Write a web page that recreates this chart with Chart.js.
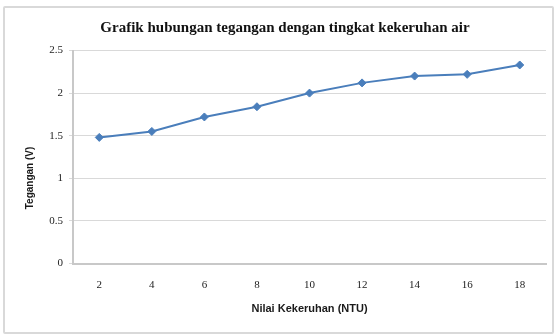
<!DOCTYPE html>
<html>
<head>
<meta charset="utf-8">
<script src="https://cdn.jsdelivr.net/npm/chart.js@4/dist/chart.umd.min.js"></script>
<style>
  html,body{margin:0;padding:0;background:#fff;}
  #wrap{position:relative;width:557px;height:336px;overflow:hidden;}
  #frame{position:absolute;left:3px;top:6px;width:547px;height:324px;border:2px solid #d9d9d9;border-radius:2px;box-sizing:content-box;}
  canvas{position:absolute;left:0;top:0;}
</style>
</head>
<body>
<div id="wrap">
  <div id="frame"></div>
  <canvas id="c" width="557" height="336"></canvas>
</div>
<script>
const chartTitle = "Grafik hubungan tegangan dengan tingkat kekeruhan air";
const xAxisTitle = "Nilai Kekeruhan (NTU)";
const yAxisTitle = "Tegangan (V)";
const categories = ["2", "4", "6", "8", "10", "12", "14", "16", "18"];
const voltage = [1.48, 1.55, 1.72, 1.84, 2.0, 2.12, 2.2, 2.22, 2.33];
const yMin = 0, yMax = 2.5, yStep = 0.5;

const textPlugin = {
  id: 'extraText',
  afterDraw(chart) {
    const ctx = chart.ctx;
    ctx.save();
    ctx.font = 'bold 15px "Liberation Serif", "Times New Roman", serif';
    ctx.fillStyle = '#111';
    ctx.textAlign = 'center';
    ctx.textBaseline = 'middle';
    ctx.fillText(chartTitle, 285, 28);
    ctx.restore();

    ctx.save();
    ctx.translate(30, 178);
    ctx.rotate(-Math.PI / 2);
    ctx.font = 'bold 10px "Liberation Sans", Arial, sans-serif';
    ctx.fillStyle = '#1a1a1a';
    ctx.textAlign = 'center';
    ctx.textBaseline = 'middle';
    ctx.fillText(yAxisTitle, 0, 0);
    ctx.restore();
  }
};

new Chart(document.getElementById('c'), {
  type: 'line',
  data: {
    labels: categories,
    datasets: [{
      data: voltage,
      borderColor: '#4a7ebb',
      backgroundColor: '#4a7ebb',
      borderWidth: 2,
      pointStyle: 'rectRot',
      pointRadius: 4,
      pointBorderWidth: 1,
      tension: 0,
      fill: false
    }]
  },
  options: {
    responsive: false,
    animation: false,
    devicePixelRatio: 1,
    layout: { padding: { left: 0, right: 11, top: 50.5, bottom: 0 } },
    plugins: {
      legend: { display: false },
      tooltip: { enabled: false },
      title: { display: false }
    },
    scales: {
      x: {
        type: 'category',
        offset: true,
        grid: { display: false },
        border: { display: true, color: '#c8c8c8', width: 2 },
        ticks: {
          color: '#222',
          font: { family: '"Liberation Serif", "Times New Roman", serif', size: 11 },
          padding: 7,
          maxRotation: 0
        },
        title: {
          display: true,
          text: xAxisTitle,
          color: '#1a1a1a',
          font: { family: '"Liberation Sans", Arial, sans-serif', size: 11, weight: 'bold' },
          padding: { top: 0, bottom: 20 }
        },
        afterFit(s) { s.height = 72.5; }
      },
      y: {
        min: yMin,
        max: yMax,
        ticks: {
          stepSize: yStep,
          color: '#222',
          font: { family: '"Liberation Serif", "Times New Roman", serif', size: 11 },
          padding: 6,
          callback: (v) => String(v)
        },
        grid: { color: '#d9d9d9', lineWidth: 1, drawTicks: true, tickLength: 4 },
        border: { display: true, color: '#c8c8c8', width: 2 },
        afterFit(s) { s.width = 73; }
      }
    }
  },
  plugins: [textPlugin]
});
</script>
</body>
</html>
